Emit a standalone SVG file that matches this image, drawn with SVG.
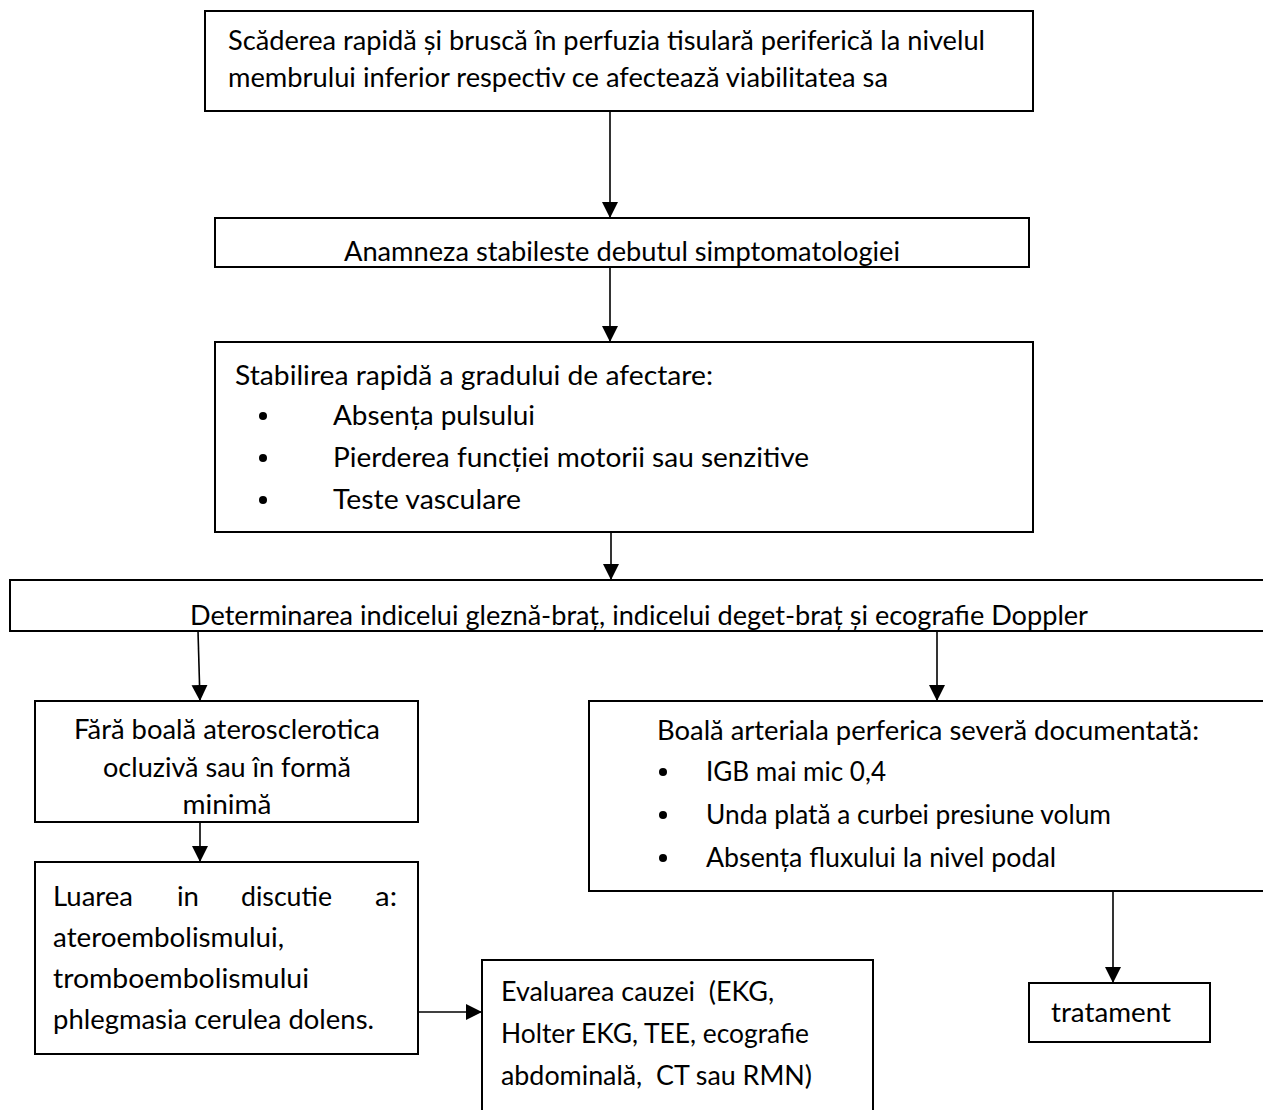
<svg xmlns="http://www.w3.org/2000/svg" width="1263" height="1110" viewBox="0 0 1263 1110">
  <style>
    .box { fill: #ffffff; stroke: #000000; stroke-width: 2; }
    .t { font-family: Lato, "Open Sans", "Liberation Sans", sans-serif; font-size: 27px; fill: #000000; }
    .c { text-anchor: middle; }
    .link { stroke: #000000; stroke-width: 1.6; fill: none; marker-end: url(#head); }
  </style>
  <defs>
    <marker id="head" markerUnits="userSpaceOnUse" markerWidth="16" markerHeight="18" refX="16" refY="8" orient="auto">
      <path d="M0,0 L16,8 L0,16 Z" fill="#000000"/>
    </marker>
    <clipPath id="clip-onset"><rect x="216" y="219" width="812" height="47"/></clipPath>
    <clipPath id="clip-index"><rect x="11" y="581" width="1252" height="49"/></clipPath>
  </defs>

  <rect width="1263" height="1110" fill="#ffffff"/>

  <!-- connectors -->
  <g id="connectors">
    <line class="link" x1="610" y1="111" x2="610" y2="218"/>
    <line class="link" x1="610" y1="267" x2="610" y2="342"/>
    <line class="link" x1="611" y1="532" x2="611" y2="580"/>
    <line class="link" x1="198" y1="631" x2="200" y2="701"/>
    <line class="link" x1="937" y1="631" x2="937" y2="701"/>
    <line class="link" x1="200" y1="822" x2="200" y2="862"/>
    <line class="link" x1="418" y1="1012" x2="482" y2="1012"/>
    <line class="link" x1="1113" y1="891" x2="1113" y2="983"/>
  </g>

  <!-- definition of acute limb ischemia -->
  <g id="node-definition">
    <rect class="box" x="205" y="11" width="828" height="100"/>
    <text class="t" x="228" y="50" textLength="757" lengthAdjust="spacingAndGlyphs">Scăderea rapidă și bruscă în perfuzia tisulară periferică la nivelul</text>
    <text class="t" x="228" y="87" textLength="660" lengthAdjust="spacingAndGlyphs">membrului inferior respectiv ce afectează viabilitatea sa</text>
  </g>

  <!-- history (descenders cut by the frame) -->
  <g id="node-onset">
    <rect class="box" x="215" y="218" width="814" height="49"/>
    <g clip-path="url(#clip-onset)">
      <text class="t" x="344" y="261" textLength="556" lengthAdjust="spacingAndGlyphs">Anamneza stabileste debutul simptomatologiei</text>
    </g>
  </g>

  <!-- severity assessment -->
  <g id="node-severity">
    <rect class="box" x="215" y="342" width="818" height="190"/>
    <text class="t" x="235" y="385" textLength="478" lengthAdjust="spacingAndGlyphs">Stabilirea rapidă a gradului de afectare:</text>
    <circle cx="263" cy="416" r="4"/>
    <text class="t" x="333" y="425" textLength="202" lengthAdjust="spacingAndGlyphs">Absența pulsului</text>
    <circle cx="263" cy="458" r="4"/>
    <text class="t" x="333" y="467" textLength="476" lengthAdjust="spacingAndGlyphs">Pierderea funcției motorii sau senzitive</text>
    <circle cx="263" cy="500" r="4"/>
    <text class="t" x="333" y="509" textLength="188" lengthAdjust="spacingAndGlyphs">Teste vasculare</text>
  </g>

  <!-- vascular indices (wide strip running off the right edge) -->
  <g id="node-indices">
    <rect class="box" x="10" y="580" width="1263" height="51"/>
    <g clip-path="url(#clip-index)">
      <text class="t" x="190" y="625" textLength="898" lengthAdjust="spacingAndGlyphs">Determinarea indicelui gleznă-braț, indicelui deget-braț și ecografie Doppler</text>
    </g>
  </g>

  <!-- no occlusive disease -->
  <g id="node-minimal">
    <rect class="box" x="35" y="701" width="383" height="121"/>
    <text class="t c" x="227" y="739" textLength="306" lengthAdjust="spacingAndGlyphs">Fără boală aterosclerotica</text>
    <text class="t c" x="227" y="777" textLength="248" lengthAdjust="spacingAndGlyphs">ocluzivă sau în formă</text>
    <text class="t c" x="227" y="814" textLength="89" lengthAdjust="spacingAndGlyphs">minimă</text>
  </g>

  <!-- severe peripheral arterial disease -->
  <g id="node-severe">
    <rect class="box" x="589" y="701" width="690" height="190"/>
    <text class="t" x="657" y="740" textLength="542" lengthAdjust="spacingAndGlyphs">Boală arteriala perferica severă documentată:</text>
    <circle cx="663" cy="772" r="4"/>
    <text class="t" x="706" y="781" textLength="180" lengthAdjust="spacingAndGlyphs">IGB mai mic 0,4</text>
    <circle cx="663" cy="815" r="4"/>
    <text class="t" x="706" y="824" textLength="405" lengthAdjust="spacingAndGlyphs">Unda plată a curbei presiune volum</text>
    <circle cx="663" cy="858" r="4"/>
    <text class="t" x="706" y="867" textLength="350" lengthAdjust="spacingAndGlyphs">Absența fluxului la nivel podal</text>
  </g>

  <!-- differential diagnosis, justified first line -->
  <g id="node-differential">
    <rect class="box" x="35" y="862" width="383" height="192"/>
    <text class="t" x="53" y="906" textLength="80" lengthAdjust="spacingAndGlyphs">Luarea</text>
    <text class="t" x="177" y="906" textLength="22" lengthAdjust="spacingAndGlyphs">in</text>
    <text class="t" x="241" y="906" textLength="91" lengthAdjust="spacingAndGlyphs">discutie</text>
    <text class="t" x="375" y="906" textLength="22" lengthAdjust="spacingAndGlyphs">a:</text>
    <text class="t" x="53" y="947" textLength="231" lengthAdjust="spacingAndGlyphs">ateroembolismului,</text>
    <text class="t" x="53" y="988" textLength="256" lengthAdjust="spacingAndGlyphs">tromboembolismului</text>
    <text class="t" x="53" y="1029" textLength="321" lengthAdjust="spacingAndGlyphs">phlegmasia cerulea dolens.</text>
  </g>

  <!-- cause workup (box runs off the bottom edge) -->
  <g id="node-cause">
    <rect class="box" x="482" y="960" width="391" height="160"/>
    <text class="t" x="501" y="1001" textLength="273" lengthAdjust="spacingAndGlyphs" xml:space="preserve">Evaluarea cauzei  (EKG,</text>
    <text class="t" x="501" y="1043" textLength="308" lengthAdjust="spacingAndGlyphs">Holter EKG, TEE, ecografie</text>
    <text class="t" x="501" y="1085" textLength="311" lengthAdjust="spacingAndGlyphs" xml:space="preserve">abdominală,  CT sau RMN)</text>
  </g>

  <!-- treatment -->
  <g id="node-treatment">
    <rect class="box" x="1029" y="983" width="181" height="59"/>
    <text class="t" x="1051" y="1022" textLength="120" lengthAdjust="spacingAndGlyphs">tratament</text>
  </g>
</svg>
